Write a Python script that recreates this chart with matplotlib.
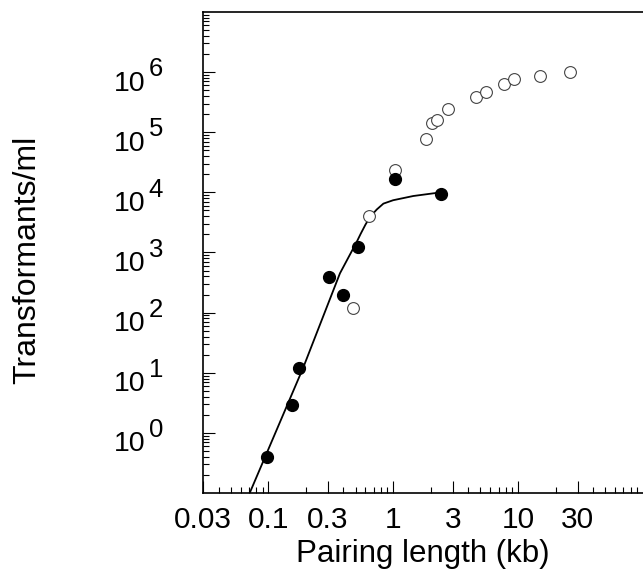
import matplotlib
matplotlib.use("Agg")
import matplotlib.pyplot as plt
from matplotlib.ticker import FixedLocator, FixedFormatter, LogLocator, NullFormatter

plt.rcParams['font.family'] = ['Liberation Sans', 'DejaVu Sans']

# filled circles (kb, transformants/ml)
filled_kb = [0.097, 0.155, 0.176, 0.306, 0.394, 0.521, 1.04, 2.42]
filled_tf = [0.39, 2.95, 11.9, 396, 196, 1250, 16500, 9300]

# open circles
open_kb = [0.48, 0.638, 1.04, 1.84, 2.05, 2.24, 2.75, 4.62, 5.51, 7.79, 9.25, 15.1, 25.9]
open_tf = [118, 4040, 23500, 77800, 140000, 159000, 243000, 384000, 470000,
           631000, 755000, 858000, 1010000]

# fitted curve
fit_kb = [0.071, 0.19, 0.375, 0.511, 0.55, 0.6, 0.653, 0.74, 0.836, 1.0, 1.45, 2.4]
fit_tf = [0.1, 12, 450, 1500, 2050, 2900, 3900, 5200, 6500, 7400, 8700, 10000]

x_ticks = [0.03, 0.1, 0.3, 1, 3, 10, 30]
x_ticklabels = ["0.03", "0.1", "0.3", "1", "3", "10", "30"]
y_exponents = [0, 1, 2, 3, 4, 5, 6]

fig = plt.figure(figsize=(6.43, 5.71), dpi=100)
ax = fig.add_axes([0.3157, 0.1366, 0.684, 0.8424])

ax.plot(fit_kb, fit_tf, color='black', lw=1.3, zorder=2)
ax.plot(open_kb, open_tf, 'o', ms=8.5, mfc='white', mec='#444444', mew=0.8, zorder=3)
ax.plot(filled_kb, filled_tf, 'o', ms=8.5, mfc='black', mec='black', zorder=4)

ax.set_xscale('log')
ax.set_yscale('log')
ax.set_xlim(0.03, 100)
ax.set_ylim(0.1, 1e7)

ax.xaxis.set_major_locator(FixedLocator(x_ticks))
ax.xaxis.set_major_formatter(FixedFormatter(x_ticklabels))
ax.xaxis.set_minor_locator(LogLocator(base=10, subs=range(2, 10), numticks=20))
ax.xaxis.set_minor_formatter(NullFormatter())
ax.yaxis.set_major_locator(FixedLocator([10.0 ** e for e in y_exponents]))
ax.yaxis.set_minor_locator(LogLocator(base=10, subs=range(2, 10), numticks=20))
ax.yaxis.set_minor_formatter(NullFormatter())

ax.tick_params(which='both', direction='in', top=False, right=False, width=0.8)
ax.tick_params(which='major', length=8.5)
ax.tick_params(which='minor', length=4)
ax.tick_params(axis='x', labelsize=21.5, pad=9)
ax.tick_params(axis='y', labelleft=False)

for s in ['left', 'bottom', 'top']:
    ax.spines[s].set_linewidth(1.2)
ax.spines['right'].set_visible(False)

# y tick labels as 10 with raised exponent
for e in y_exponents:
    ax.annotate("10", xy=(0, 10.0 ** e), xycoords=('axes fraction', 'data'),
                xytext=(-41.5, -13.3), textcoords='offset points',
                ha='right', va='baseline', fontsize=20.5)
    ax.annotate(str(e), xy=(0, 10.0 ** e), xycoords=('axes fraction', 'data'),
                xytext=(-39, -3), textcoords='offset points',
                ha='left', va='baseline', fontsize=18.5)

fig.text(0.658, 0.030, "Pairing length (kb)", ha='center', va='center', fontsize=22.5)
fig.text(0.042, 0.545, "Transformants/ml", ha='center', va='center',
         rotation=90, fontsize=23)

fig.savefig("out.png", dpi=100)
